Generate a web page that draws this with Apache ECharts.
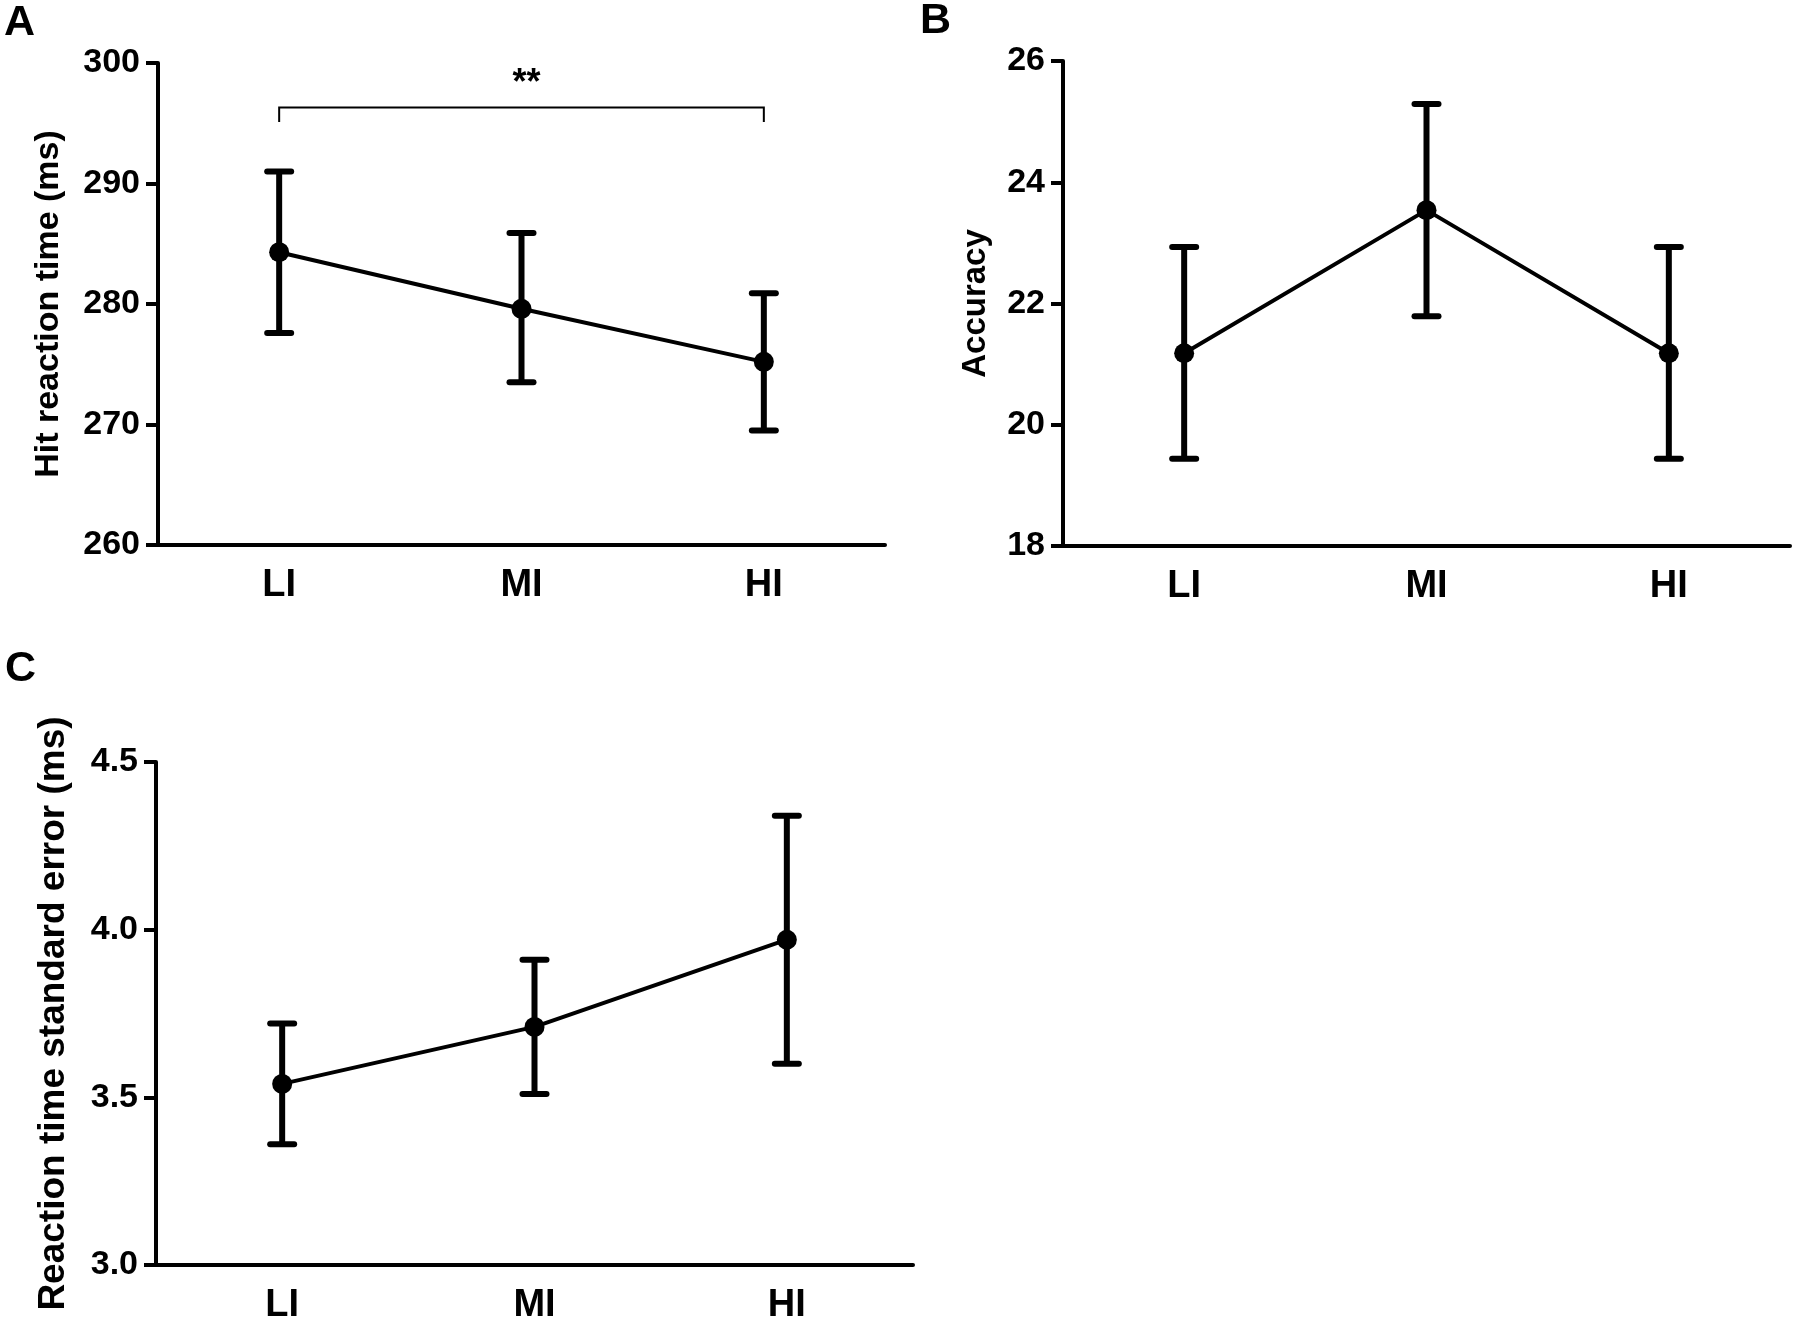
<!DOCTYPE html>
<html>
<head>
<meta charset="UTF-8">
<script src="https://cdn.jsdelivr.net/npm/echarts@6/dist/echarts.min.js"></script>
<style>
    html, body { margin: 0; padding: 0; background: #fff; }
    #main { width: 1800px; height: 1327px; }
</style>
</head>
<body>
<div id="main"></div>
<script type="text/javascript">
    // categories (same three levels in every panel)
    var categories = ['LI', 'MI', 'HI'];

    // A - hit reaction time (ms): mean and error bar ends
    var rtMean = [284.3, 279.6, 275.2];
    var rtLow = [277.6, 273.5, 269.5];
    var rtHigh = [291.0, 285.9, 280.9];
    var rtTicks = { min: 260, max: 300, step: 10 };
    // significance bracket LI - HI
    var rtBracket = { from: 'LI', to: 'HI', top: 296.3, foot: 295.1, label: '**' };

    // B - accuracy
    var accMean = [21.18, 23.54, 21.18];
    var accLow = [19.44, 21.79, 19.44];
    var accHigh = [22.93, 25.29, 22.93];
    var accTicks = { min: 18, max: 26, step: 2 };

    // C - reaction time standard error (ms)
    var sdMean = [3.54, 3.71, 3.97];
    var sdLow = [3.36, 3.51, 3.60];
    var sdHigh = [3.72, 3.91, 4.34];
    var sdTicks = { min: 3.0, max: 4.5, step: 0.5 };

    var FONT = "'Liberation Sans', Arial, sans-serif";

    var myChart = echarts.init(document.getElementById('main'));

    //组装误差线数据 [类别序号, 下限, 上限]
    var errData = function (low, high) {
        var arr = [];
        for (var i = 0; i < low.length; i++) {
            arr.push([i, low[i], high[i]]);
        }
        return arr;
    };

    var errorBarSeries = function (idx, low, high) {
        return {
            type: 'custom',
            xAxisIndex: idx,
            yAxisIndex: idx,
            z: 2,
            silent: true,
            data: errData(low, high),
            renderItem: function (params, api) {
                var lo = api.coord([api.value(0), api.value(1)]);
                var hi = api.coord([api.value(0), api.value(2)]);
                var half = 12;
                var st = { stroke: '#000', lineWidth: 6, lineCap: 'round' };
                return {
                    type: 'group',
                    children: [
                        { type: 'line', shape: { x1: lo[0], y1: lo[1], x2: hi[0], y2: hi[1] }, style: { stroke: '#000', lineWidth: 6 } },
                        { type: 'line', shape: { x1: hi[0] - half, y1: hi[1], x2: hi[0] + half, y2: hi[1] }, style: st },
                        { type: 'line', shape: { x1: lo[0] - half, y1: lo[1], x2: lo[0] + half, y2: lo[1] }, style: st }
                    ]
                };
            }
        };
    };

    var meanSeries = function (idx, data) {
        return {
            type: 'line',
            xAxisIndex: idx,
            yAxisIndex: idx,
            z: 3,
            data: data,
            symbol: 'circle',
            symbolSize: 20,
            itemStyle: { color: '#000' },
            lineStyle: { color: '#000', width: 4 },
            silent: true
        };
    };

    var xAxisOf = function (idx) {
        return {
            type: 'category',
            gridIndex: idx,
            data: categories,
            boundaryGap: true,
            axisLine: { lineStyle: { color: '#000', width: 4 } },
            axisTick: { alignWithLabel: true, length: 14, lineStyle: { color: '#000', width: 4 } },
            axisLabel: { color: '#000', fontSize: 38, fontWeight: 'bold', fontFamily: FONT, margin: 22 },
            splitLine: { show: false }
        };
    };

    var yAxisOf = function (idx, ticks, name, nameSize, nameGap, decimals) {
        return {
            type: 'value',
            gridIndex: idx,
            min: ticks.min,
            max: ticks.max,
            interval: ticks.step,
            name: name,
            nameLocation: 'middle',
            nameRotate: 90,
            nameGap: nameGap,
            nameTextStyle: { color: '#000', fontSize: nameSize, fontWeight: 'bold', fontFamily: FONT },
            axisLine: { show: true, lineStyle: { color: '#000', width: 4 } },
            axisTick: { show: true, length: 12, lineStyle: { color: '#000', width: 4 } },
            axisLabel: {
                color: '#000', fontSize: 34, fontWeight: 'bold', fontFamily: FONT, margin: 18,
                formatter: function (v) { return v.toFixed(decimals); }
            },
            splitLine: { show: false }
        };
    };

    // 显著性括号
    var bracketSeries = {
        type: 'custom',
        xAxisIndex: 0,
        yAxisIndex: 0,
        z: 2,
        silent: true,
        data: [[categories.indexOf(rtBracket.from), categories.indexOf(rtBracket.to), rtBracket.top, rtBracket.foot]],
        renderItem: function (params, api) {
            var a = api.coord([api.value(0), api.value(2)]);
            var b = api.coord([api.value(1), api.value(2)]);
            var af = api.coord([api.value(0), api.value(3)]);
            var bf = api.coord([api.value(1), api.value(3)]);
            var st = { stroke: '#000', lineWidth: 2, fill: null };
            return {
                type: 'group',
                children: [
                    { type: 'polyline', shape: { points: [af, a, b, bf] }, style: st },
                    {
                        type: 'text',
                        style: {
                            text: rtBracket.label, x: (a[0] + b[0]) / 2 + 5, y: a[1] - 6,
                            align: 'center', verticalAlign: 'bottom',
                            fill: '#000', font: 'bold 36px ' + FONT
                        }
                    }
                ]
            };
        }
    };

    var option = {
        animation: false,
        backgroundColor: '#fff',
        graphic: [
            { type: 'text', left: 4, top: 2, style: { text: 'A', fill: '#000', font: 'bold 43px ' + FONT } },
            { type: 'text', left: 920, top: 0, style: { text: 'B', fill: '#000', font: 'bold 43px ' + FONT } },
            { type: 'text', left: 5, top: 648, style: { text: 'C', fill: '#000', font: 'bold 43px ' + FONT } }
        ],
        grid: [
            { left: 158, top: 63, width: 727, height: 482 },
            { left: 1063, top: 61, width: 727, height: 485 },
            { left: 156, top: 762, width: 757, height: 503 }
        ],
        xAxis: [xAxisOf(0), xAxisOf(1), xAxisOf(2)],
        yAxis: [
            yAxisOf(0, rtTicks, 'Hit reaction time (ms)', 34, 92, 0),
            yAxisOf(1, accTicks, 'Accuracy', 33, 71, 0),
            yAxisOf(2, sdTicks, 'Reaction time standard error (ms)', 37, 84, 1)
        ],
        series: [
            errorBarSeries(0, rtLow, rtHigh),
            meanSeries(0, rtMean),
            bracketSeries,
            errorBarSeries(1, accLow, accHigh),
            meanSeries(1, accMean),
            errorBarSeries(2, sdLow, sdHigh),
            meanSeries(2, sdMean)
        ]
    };

    myChart.setOption(option);
</script>
</body>
</html>
